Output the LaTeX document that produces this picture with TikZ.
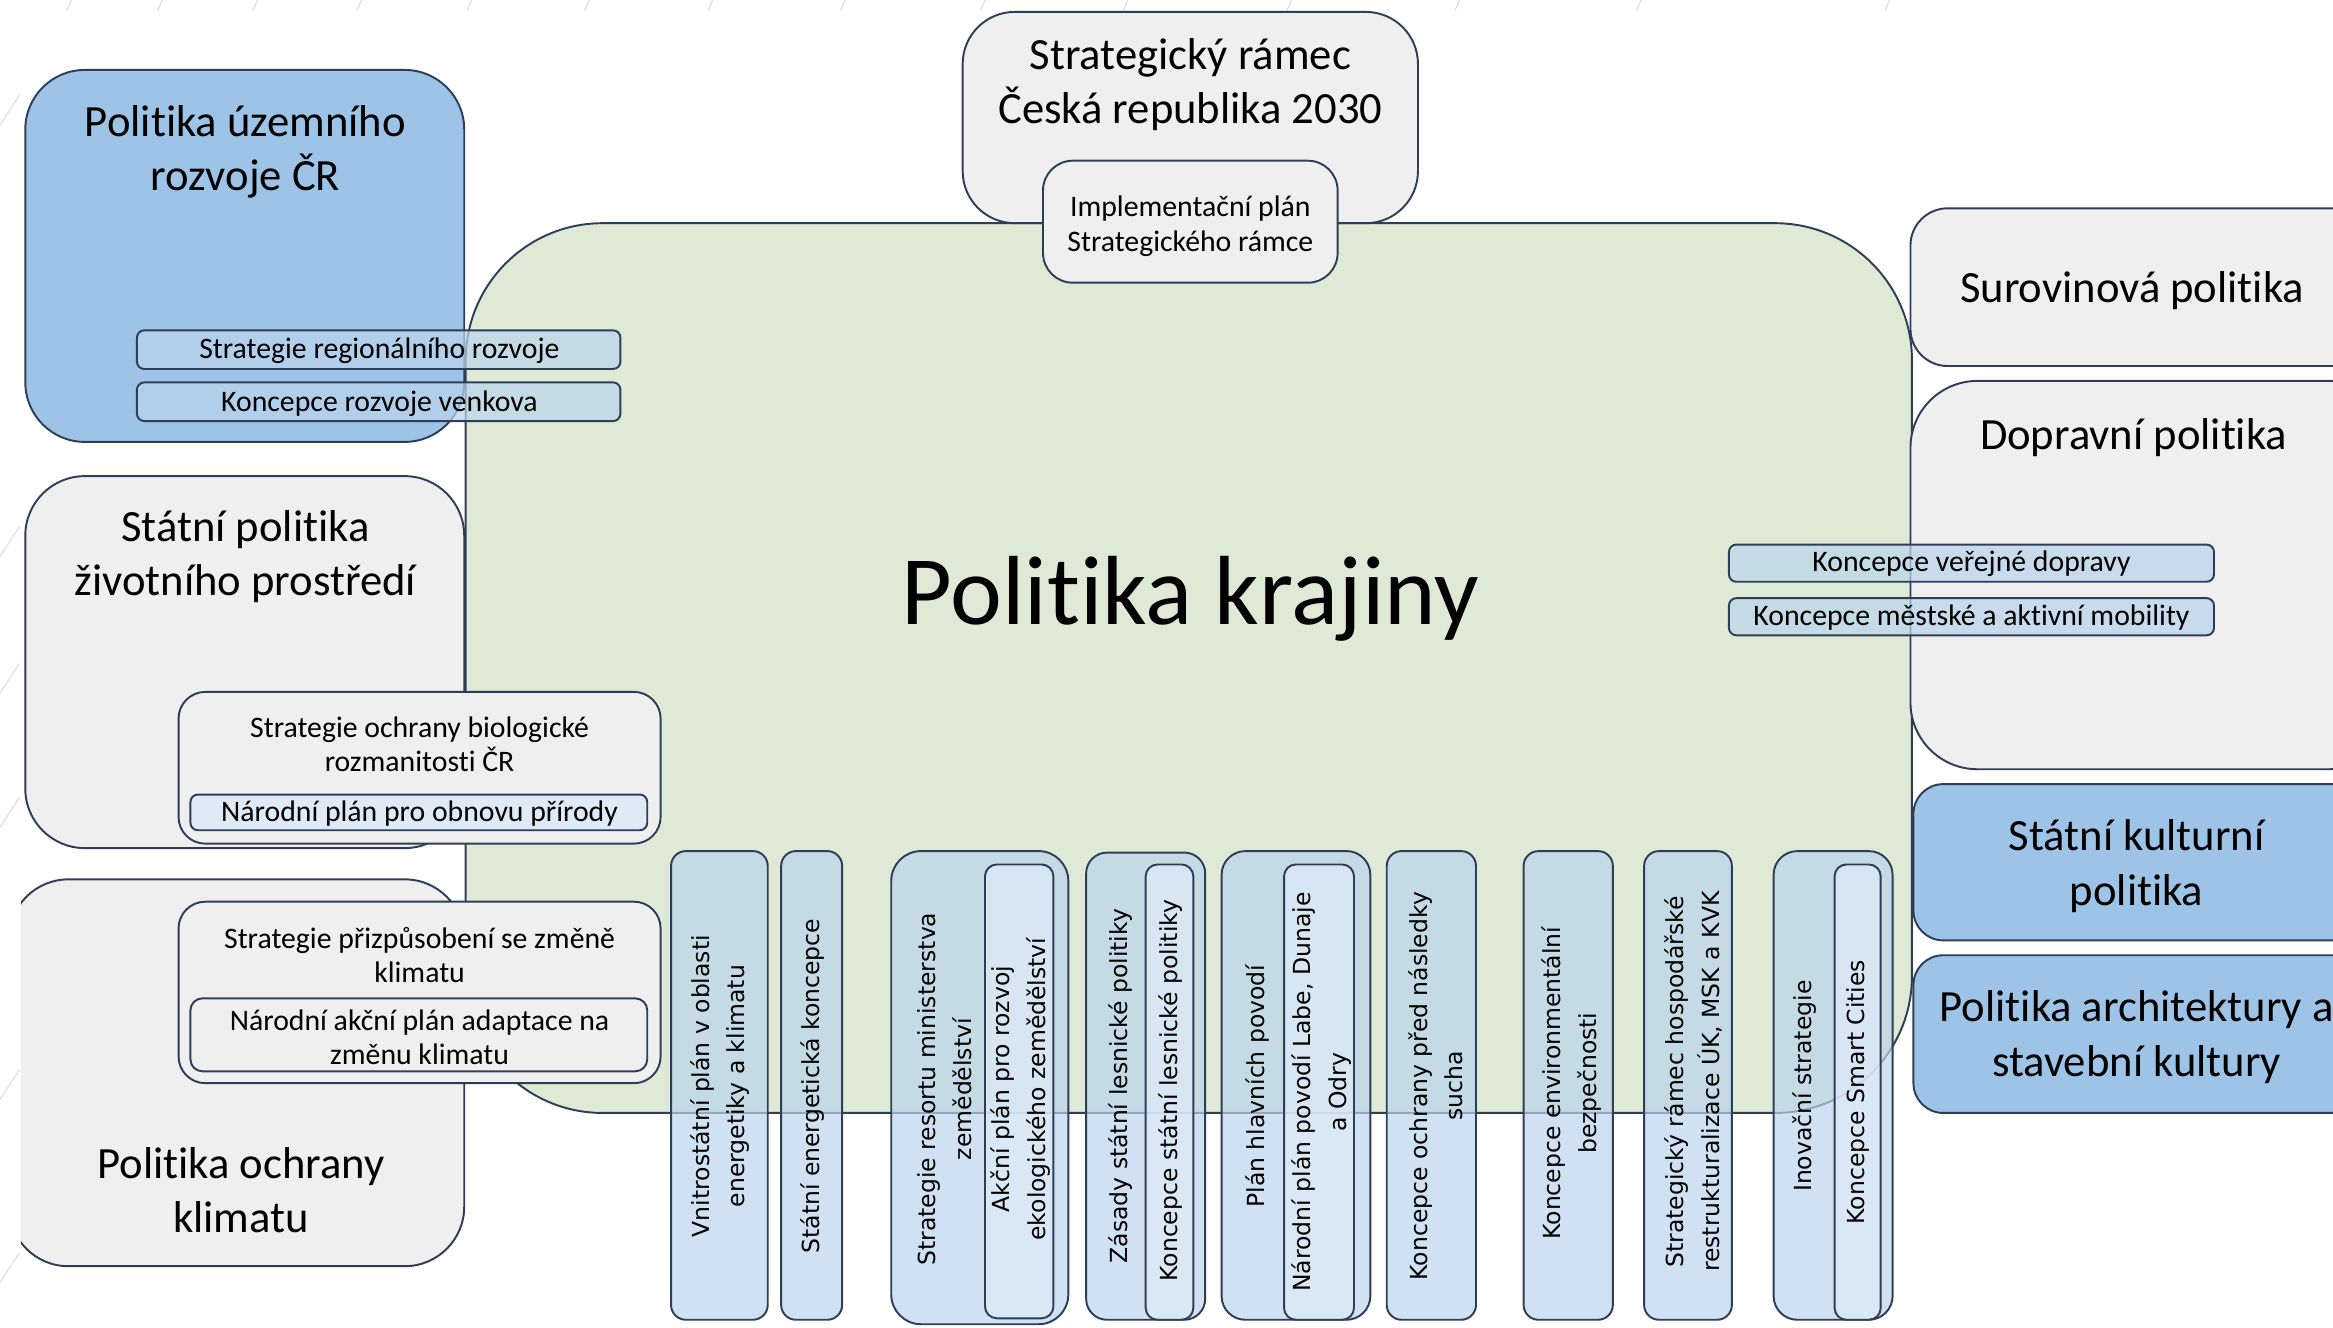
\documentclass[tikz,border=0pt]{standalone}
\usepackage{fontspec}
\setmainfont{Carlito}[Ligatures=NoCommon]
\newfontfamily\vfont{DejaVu Sans}
\definecolor{bordc}{RGB}{47,62,88}
\definecolor{greenc}{RGB}{222,234,213}
\definecolor{grayc}{RGB}{239,239,239}
\definecolor{bluec}{RGB}{157,195,230}
\definecolor{stripc}{RGB}{186,212,236}
\definecolor{innerc}{RGB}{222,235,247}
\definecolor{decoc}{RGB}{222,222,222}
\newcommand\RB[6]{\node[#1, minimum width={(#5-#3)*1pt}, minimum height={(#6-#4)*1pt}] (#2) at ({(#3+#5)/2},{(#4+#6)/2}) {};}
\begin{document}
\begin{tikzpicture}[x=1pt,y=-1pt,
  base/.style={draw=bordc, line width=1.3pt, inner sep=0pt, outer sep=0pt, rectangle},
  grn/.style={base, fill=greenc, rounded corners=92pt},
  gry/.style={base, fill=grayc},
  blu/.style={base, fill=bluec},
  strip/.style={base, fill=stripc, fill opacity=0.72, rounded corners=5pt},
  vbox/.style={base, fill=stripc, fill opacity=0.7, rounded corners=10pt},
  vin/.style={base, fill=innerc, fill opacity=0.75, rounded corners=8pt},
  big/.style={font=\fontsize{30}{36.5}\selectfont, align=center, inner sep=0pt},
  sml/.style={font=\fontsize{20}{23}\selectfont, align=center, inner sep=0pt},
  vt/.style={font=\vfont\fontsize{15.8}{24}\selectfont, align=center, inner sep=0pt, rotate=90},
  deco/.style={draw=decoc, line width=0.8pt}]
\useasboundingbox (0,0) rectangle (1568,892);
% faint background decoration
\foreach \t in {45,106,170,240,314,393,476,565,659,755,865,978,1100,1267}
  \draw[deco] (\t,7) -- (\t+3,0);
\foreach \t in {84,374,466,556,739,862}
  \draw[deco] (0,\t) -- (13,\t-20);
% main green area
\RB{grn}{krajina}{313}{150}{1285}{748}
\node[font=\fontsize{66}{70}\selectfont, anchor=base, inner sep=0pt] (tkrajina) at (800,420) {Politika krajiny};
% left column
\RB{blu, rounded corners=40pt}{uzemni}{17}{47}{312}{297}
\node[big] (tuzemni) at (165,102) {Politika územního\\rozvoje ČR};
\RB{strip}{regio}{92}{222}{417}{248}
\node[sml] (tregio) at (255,236) {Strategie regionálního rozvoje};
\RB{strip}{venkov}{92}{257}{417}{283}
\node[sml] (tvenkov) at (255,271) {Koncepce rozvoje venkova};
\RB{gry, rounded corners=40pt}{zp}{17}{320}{312}{570}
\node[big] (tzp) at (165,374) {Státní politika\\životního prostředí};
\RB{gry, rounded corners=18pt}{bio}{120}{465}{444}{567}
\node[sml] (tbio) at (282,500) {Strategie ochrany biologické\\rozmanitosti ČR};
\RB{base, fill=innerc, rounded corners=5pt}{obnova}{128}{534}{435}{558}
\node[sml] (tobnova) at (282,547) {Národní plán pro obnovu přírody};
\begin{scope}
\clip (14,0) rectangle (1568,892);
\RB{gry, rounded corners=40pt}{klima}{6}{591}{312}{851}
\end{scope}
\node[big] (tklima) at (162,800) {Politika ochrany\\klimatu};
\RB{gry, rounded corners=18pt}{prizp}{120}{606}{444}{728}
\node[sml] (tprizp) at (282,642) {Strategie přizpůsobení se změně\\klimatu};
\RB{gry, rounded corners=8pt}{adapt}{128}{671}{435}{720}
\node[sml] (tadapt) at (282,697) {Národní akční plán adaptace na\\změnu klimatu};
% top
\RB{gry, rounded corners=35pt}{sr}{647}{8}{953}{150}
\node[big] (tsr) at (800,57) {Strategický rámec\\Česká republika 2030};
\RB{gry, rounded corners=20pt}{impl}{701}{108}{899}{190}
\node[sml] (timpl) at (800,152) {Implementační plán\\Strategického rámce};
% right column
\RB{gry, rounded corners=25pt}{surov}{1284}{140}{1610}{246}
\node[big] (tsurov) at (1433,195) {Surovinová politika};
\RB{gry, rounded corners=45pt}{doprav}{1284}{256}{1610}{517}
\node[big] (tdoprav) at (1434,294) {Dopravní politika};
\RB{strip}{verej}{1162}{366}{1488}{391}
\node[sml] (tverej) at (1325,379) {Koncepce veřejné dopravy};
\RB{strip}{mobil}{1162}{402}{1488}{427}
\node[sml] (tmobil) at (1325,415) {Koncepce městské a aktivní mobility};
\RB{blu, rounded corners=20pt}{kult}{1286}{527}{1610}{632}
\node[big] (tkult) at (1436,582) {Státní kulturní\\politika};
\RB{blu, rounded corners=20pt}{arch}{1286}{642}{1610}{748}
\node[big] (tarch) at (1436,697) {Politika architektury a\\stavební kultury};
% bottom vertical boxes
\RB{vbox}{va}{451}{572}{516}{887}
\node[vt] (tva) at (484,730) {Vnitrostátní plán v oblasti\\energetiky a klimatu};
\RB{vbox}{vb}{525}{572}{566}{887}
\node[vt] (tvb) at (546,730) {Státní energetická koncepce};
\RB{vbox, rounded corners=20pt}{vc}{599}{572}{718}{890}
\node[vt] (tvc) at (635,732) {Strategie resortu ministerstva\\zemědělství};
\RB{vin}{vci}{662}{581}{708}{886}
\node[vt] (tvci) at (686,732) {Akční plán pro rozvoj\\ekologického zemědělství};
\RB{vbox, rounded corners=14pt}{vd}{730}{573}{810}{887}
\node[vt] (tvd) at (753,730) {Zásady státní lesnické politiky};
\RB{vin}{vdi}{770}{581}{802}{887}
\node[vt] (tvdi) at (787,733) {Koncepce státní lesnické politiky};
\RB{vbox, rounded corners=16pt}{ve}{821}{572}{921}{887}
\node[vt] (tve) at (845,730) {Plán hlavních povodí};
\RB{vin}{vei}{863}{581}{910}{887}
\node[vt] (tvei) at (888,734) {Národní plán povodí Labe, Dunaje\\a Odry};
\RB{vbox}{vf}{932}{572}{992}{887}
\node[vt] (tvf) at (965,730) {Koncepce ochrany před následky\\sucha};
\RB{vbox}{vg}{1024}{572}{1084}{887}
\node[vt] (tvg) at (1056,728) {Koncepce environmentální\\bezpečnosti};
\RB{vbox}{vh}{1105}{572}{1164}{887}
\node[vt] (tvh) at (1138,727) {Strategický rámec hospodářské\\restrukturalizace ÚK, MSK a KVK};
\RB{vbox, rounded corners=16pt}{vi}{1192}{572}{1272}{887}
\node[vt] (tvi) at (1213,730) {Inovační strategie};
\RB{vin}{vii}{1233}{581}{1264}{887}
\node[vt] (tvii) at (1249,734) {Koncepce Smart Cities};
\end{tikzpicture}
\end{document}
